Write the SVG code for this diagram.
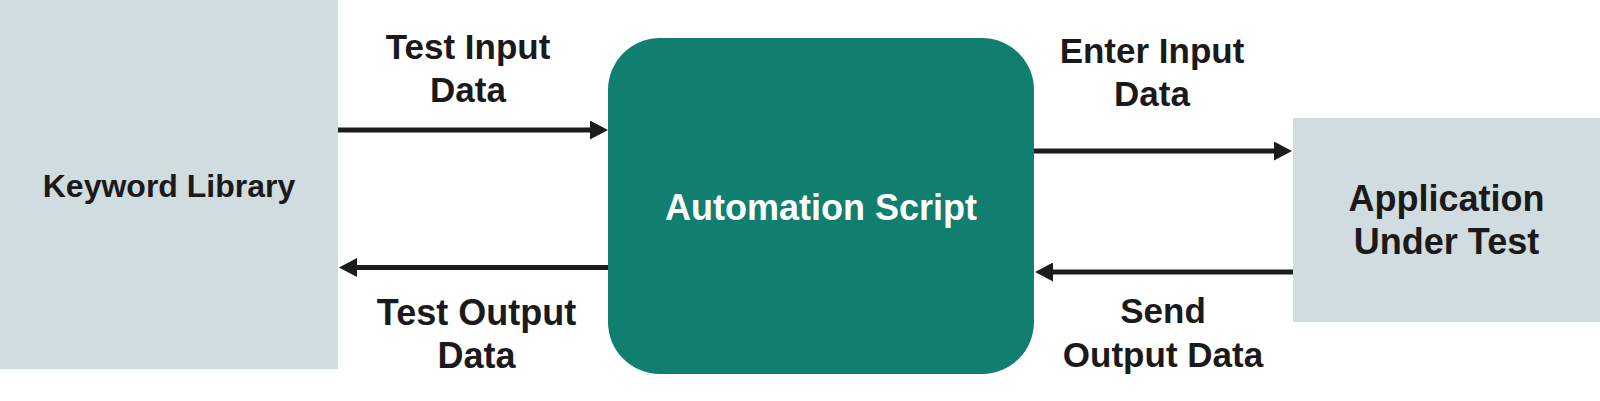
<svg xmlns="http://www.w3.org/2000/svg" width="1600" height="401" viewBox="0 0 1600 401">
  <style>
    .box { fill: #d0dcdf; }
    .core { fill: #107f70; }
    .lbl { font-family: "Liberation Sans", Arial, sans-serif; font-weight: bold; fill: #1a1a1a; text-anchor: middle; }
    .wht { fill: #ffffff; }
    .conn { stroke: #1a1d1c; stroke-width: 5; fill: none; marker-end: url(#arrow); }
  </style>
  <defs>
    <marker id="arrow" markerUnits="userSpaceOnUse" markerWidth="18" markerHeight="19" refX="0" refY="9.5" orient="auto" viewBox="0 0 18 19">
      <path d="M0,0 L18,9.5 L0,19 Z" fill="#1a1d1c"/>
    </marker>
  </defs>
  <rect width="1600" height="401" fill="#ffffff"/>

  <g id="keyword-library">
    <rect class="box" x="0" y="0" width="338" height="369"/>
    <text class="lbl" x="169" y="196.5" font-size="32">Keyword Library</text>
  </g>

  <g id="automation-script">
    <rect class="core" x="608" y="38" width="426" height="336" rx="52" ry="52"/>
    <text class="lbl wht" x="821" y="220" font-size="36">Automation Script</text>
  </g>

  <g id="application-under-test">
    <rect class="box" x="1293" y="118" width="307" height="204"/>
    <text class="lbl" x="1446.5" y="210.5" font-size="36">Application</text>
    <text class="lbl" x="1446.5" y="254" font-size="36">Under Test</text>
  </g>

  <g id="connectors">
    <path class="conn" d="M338,130 H590"/>
    <path class="conn" d="M608,267.5 H357"/>
    <path class="conn" d="M1034,151 H1274"/>
    <path class="conn" d="M1293,272 H1053"/>
  </g>

  <g id="connector-labels">
    <text class="lbl" x="468" y="59" font-size="35">Test Input</text>
    <text class="lbl" x="468" y="101.5" font-size="35">Data</text>
    <text class="lbl" x="476.5" y="325" font-size="36">Test Output</text>
    <text class="lbl" x="476.5" y="368" font-size="36">Data</text>
    <text class="lbl" x="1152" y="62.5" font-size="35">Enter Input</text>
    <text class="lbl" x="1152" y="106" font-size="35">Data</text>
    <text class="lbl" x="1163" y="323" font-size="35">Send</text>
    <text class="lbl" x="1163" y="366.5" font-size="35">Output Data</text>
  </g>
</svg>
